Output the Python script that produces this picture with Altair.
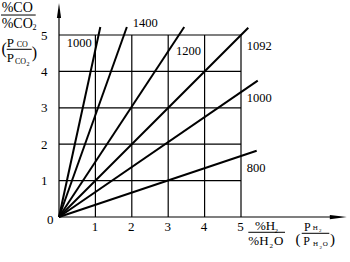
import altair as alt
import pandas as pd

# ---- data ----
temps = ["1000", "1400", "1200", "1092", "1000", "800"]
end_x = [1.135, 1.864, 3.44, 5.2, 5.46, 5.43]
end_y = [5.22, 5.22, 5.22, 5.2, 3.745, 1.82]
ticks = [1, 2, 3, 4, 5]

# ---- layout (data units) ----
label_x = [0.212, 2.025, 3.214, 5.157, 5.157, 5.157]
label_y = [4.679, 5.228, 4.451, 4.588, 3.168, 1.245]

K = 36.4
W, H = 291, 217
sx = alt.Scale(domain=[0, W / K], nice=False, zero=False)
sy = alt.Scale(domain=[0, H / K], nice=False, zero=False)
FONT = "Liberation Serif, Times New Roman, Times, serif"

x_axis = alt.Axis(values=ticks, domain=False, ticks=False, tickSize=0, grid=False,
                  labelFont=FONT, labelFontSize=13, labelColor="black",
                  labelPadding=3, labelOffset=-1, title=None)
y_axis = alt.Axis(values=ticks, domain=False, ticks=False, tickSize=0, grid=False,
                  labelFont=FONT, labelFontSize=13, labelColor="black",
                  labelPadding=12, title=None)


def X(f):
    return alt.X(f, type="quantitative", scale=sx, axis=x_axis)


def Y(f):
    return alt.Y(f, type="quantitative", scale=sy, axis=y_axis)


grid_v = pd.DataFrame({"t": ticks, "lo": 0, "hi": 5})
grid_h = pd.DataFrame({"t": ticks, "lo": 0, "hi": 5})

axes_df = pd.DataFrame({"x": [0, 0], "y": [0, 0], "x2": [0, 7.45], "y2": [5.5, 0]})

axes = alt.Chart(axes_df).mark_rule(color="black", strokeWidth=1.2).encode(
    x=X("x"), y=Y("y"), x2="x2", y2="y2")

gv = alt.Chart(grid_v).mark_rule(color="black", strokeWidth=1.2).encode(
    x=X("t"), y=Y("lo"), y2="hi")
gh = alt.Chart(grid_h).mark_rule(color="black", strokeWidth=1.2).encode(
    y=Y("t"), x=X("lo"), x2="hi")

lines_df = pd.DataFrame({"id": range(len(temps)), "temp": temps,
                         "x0": 0.0, "y0": 0.0, "x1": end_x, "y1": end_y})
lines = alt.Chart(lines_df).mark_rule(color="black", strokeWidth=2).encode(
    x=X("x0"), y=Y("y0"), x2="x1", y2="y1", detail="id:N")

lab_df = pd.DataFrame({"text": temps, "x": label_x, "y": label_y})
labels = alt.Chart(lab_df).mark_text(align="left", baseline="alphabetic", font=FONT,
                                     fontSize=12.5, color="black").encode(
    x=X("x"), y=Y("y"), text="text:N")

# title pieces: text, left x, baseline y, font size
pieces = [
    ("%CO", -1.574, 5.640, 14),
    ("%CO", -1.574, 5.184, 14),
    ("2", -0.728, 5.124, 8),
    ("(", -1.580, 4.478, 16),
    ("P", -1.437, 4.679, 13),
    ("CO", -1.162, 4.679, 8),
    ("P", -1.437, 4.266, 13),
    ("CO", -1.209, 4.203, 8),
    ("2", -0.893, 4.148, 6),
    (")", -0.750, 4.368, 16),
    ("0", -0.330, -0.179, 13),
    ("%H", 5.385, -0.357, 13),
    ("2", 5.920, -0.426, 7),
    ("%H", 5.201, -0.769, 13),
    ("2", 5.783, -0.838, 7),
    ("O", 5.907, -0.769, 13),
    ("(", 6.497, -0.750, 15),
    ("P", 6.731, -0.376, 12),
    ("H", 6.970, -0.357, 7),
    ("2", 7.143, -0.412, 5),
    ("P", 6.712, -0.769, 12),
    ("H", 6.978, -0.797, 7),
    ("2", 7.157, -0.879, 5),
    ("O", 7.245, -0.797, 7),
    (")", 7.445, -0.750, 15),
]
pc_df = pd.DataFrame(pieces, columns=["text", "x", "y", "s"])
pc = alt.Chart(pc_df).mark_text(align="left", baseline="alphabetic", font=FONT,
                                color="black").encode(
    x=X("x"), y=Y("y"), text="text:N", size=alt.Size("s:Q", scale=None, legend=None))

bars_df = pd.DataFrame({"x": [-1.593, -1.437, 5.201, 6.668],
                        "x2": [-0.640, -0.750, 6.209, 7.426],
                        "y": [5.549, 4.607, -0.420, -0.448]})
bars = alt.Chart(bars_df).mark_rule(color="black", strokeWidth=1).encode(
    x=X("x"), x2="x2", y=Y("y"))

up_df = pd.DataFrame({"x": [0.0], "y": [5.673]})
arrow_up = alt.Chart(up_df).mark_point(
    shape="M0,-1 L0.28,1 L-0.28,1 Z", filled=True, fill="black", color="black",
    opacity=1, size=225, strokeWidth=0).encode(x=X("x"), y=Y("y"))
rt_df = pd.DataFrame({"x": [7.673], "y": [0.0]})
arrow_rt = alt.Chart(rt_df).mark_point(
    shape="M1,0 L-1,-0.25 L-1,0.25 Z", filled=True, fill="black", color="black",
    opacity=1, size=289, strokeWidth=0).encode(x=X("x"), y=Y("y"))

chart = alt.layer(axes, gv, gh, lines, labels, pc, bars, arrow_up, arrow_rt).properties(
    width=W, height=H,
    autosize=alt.AutoSizeParams(type="none"),
    padding={"left": 59, "top": 0, "right": 0, "bottom": 45},
    background="white",
).configure_view(stroke=None)

chart.save("out.html", embed_options={"renderer": "svg", "actions": False})
